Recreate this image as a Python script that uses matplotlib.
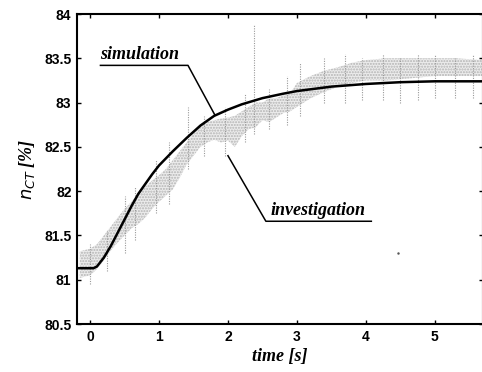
import matplotlib
matplotlib.use("Agg")
import matplotlib.pyplot as plt
import numpy as np

# simulation curve
sim_t = [-0.19, 0.0, 0.05, 0.1, 0.2, 0.3, 0.4, 0.5, 0.6, 0.7, 0.8, 0.9, 1.0, 1.2, 1.4,
         1.6, 1.8, 2.0, 2.2, 2.5, 2.8, 3.0, 3.5, 4.0, 4.5, 5.0, 5.5, 5.7]
sim_n = [81.13, 81.13, 81.13, 81.15, 81.25, 81.38, 81.53, 81.68, 81.83, 81.97, 82.08,
         82.19, 82.29, 82.45, 82.60, 82.74, 82.85, 82.92, 82.98, 83.05, 83.10, 83.13,
         83.18, 83.21, 83.23, 83.24, 83.24, 83.24]

# investigation measurement band (dense part)
inv_t = [-0.15, 0.0, 0.1, 0.2, 0.3, 0.4, 0.5, 0.6, 0.7, 0.8, 0.9, 1.0, 1.1, 1.2, 1.3,
         1.4, 1.5, 1.6, 1.7, 1.8, 1.9, 2.0, 2.1, 2.2, 2.3, 2.4, 2.5, 2.6, 2.7, 2.8,
         2.9, 3.0, 3.2, 3.4, 3.6, 3.8, 4.0, 4.3, 4.6, 5.0, 5.3, 5.7]
inv_lo = [81.02, 81.05, 81.12, 81.22, 81.33, 81.42, 81.50, 81.58, 81.63, 81.70, 81.80,
          81.88, 81.95, 82.02, 82.15, 82.30, 82.40, 82.50, 82.55, 82.58, 82.55, 82.57,
          82.50, 82.62, 82.70, 82.72, 82.80, 82.78, 82.83, 82.88, 82.90, 82.95, 83.05,
          83.12, 83.18, 83.22, 83.25, 83.25, 83.27, 83.30, 83.30, 83.30]
inv_hi = [81.32, 81.35, 81.40, 81.50, 81.60, 81.70, 81.80, 81.88, 81.97, 82.05, 82.12,
          82.18, 82.25, 82.35, 82.45, 82.55, 82.65, 82.75, 82.78, 82.80, 82.82, 82.83,
          82.85, 82.90, 82.95, 83.00, 83.00, 83.05, 83.05, 83.08, 83.10, 83.22, 83.30,
          83.36, 83.40, 83.45, 83.48, 83.50, 83.50, 83.50, 83.50, 83.48]

# vertical noise streaks of the measurement
streak_t = [0.0, 0.25, 0.5, 0.65, 0.95, 1.15, 1.42, 1.65, 1.95, 2.25, 2.38, 2.6, 2.85,
            3.05, 3.4, 3.7, 3.95, 4.25, 4.5, 4.75, 5.0, 5.3, 5.55]
streak_lo = [80.95, 81.10, 81.30, 81.45, 81.75, 81.85, 82.25, 82.40, 82.40, 82.55, 82.65,
             82.70, 82.75, 82.85, 83.00, 83.00, 83.03, 83.03, 83.00, 83.03, 83.05, 83.05,
             83.05]
streak_hi = [81.40, 81.55, 81.95, 82.05, 82.35, 82.55, 82.95, 82.85, 82.95, 83.10, 83.88,
             83.15, 83.30, 83.45, 83.50, 83.55, 83.50, 83.55, 83.50, 83.55, 83.55, 83.50,
             83.55]

stray_t = [4.47]
stray_n = [81.30]

xticks = [0, 1, 2, 3, 4, 5]
yticks = [80.5, 81, 81.5, 82, 82.5, 83, 83.5, 84]
ytick_labels = ["80.5", "81", "81.5", "82", "82.5", "83", "83.5", "84"]

fig = plt.figure(figsize=(4.82, 3.72), dpi=100)
ax = fig.add_axes([77 / 482, 1 - 324 / 372, 406 / 482, 310 / 372])

ax.fill_between(inv_t, inv_lo, inv_hi, facecolor="#ececec", edgecolor="#b4b4b4",
                hatch="......", linewidth=0, zorder=1)
ax.vlines(streak_t, streak_lo, streak_hi, colors="#9a9a9a", linestyles=(0, (1, 1.2)),
          linewidth=0.8, zorder=2)
ax.plot(stray_t, stray_n, ".", color="#555555", markersize=1.5, zorder=2)
ax.plot(sim_t, sim_n, color="black", linewidth=1.8, zorder=3)

ax.set_xlim(-0.19, 5.70)
ax.set_ylim(80.5, 84)
ax.set_xticks(xticks)
ax.set_yticks(yticks)
ax.set_yticklabels(ytick_labels)
ax.tick_params(direction="in", top=True, right=True, length=3, width=1,
               labelsize=10, pad=4)
for lab in ax.get_xticklabels() + ax.get_yticklabels():
    lab.set_fontfamily("Liberation Sans")
    lab.set_fontweight("bold")
for sp in ax.spines.values():
    sp.set_linewidth(1.5)

plt.rcParams["mathtext.fontset"] = "custom"
plt.rcParams["mathtext.it"] = "Liberation Serif:italic:bold"
plt.rcParams["mathtext.rm"] = "Liberation Serif:bold"
serif = dict(family="Liberation Serif", style="italic", weight="bold", fontsize=13)
ax.set_xlabel("time [s]", labelpad=3, **serif)
ax.set_ylabel(r"$n_{CT}$ [%]", labelpad=5, **serif)

# annotations
ax.text(0.15, 83.45, "simulation", ha="left", va="bottom", **serif)
ax.plot([0.15, 1.42, 1.81], [83.42, 83.42, 82.86], color="black", linewidth=1.1, zorder=4)
ax.text(2.62, 81.69, "investigation", ha="left", va="bottom", **serif)
ax.plot([2.0, 2.55, 4.08], [82.40, 81.66, 81.66], color="black", linewidth=1.1, zorder=4)

fig.savefig("out.png", dpi=100)
